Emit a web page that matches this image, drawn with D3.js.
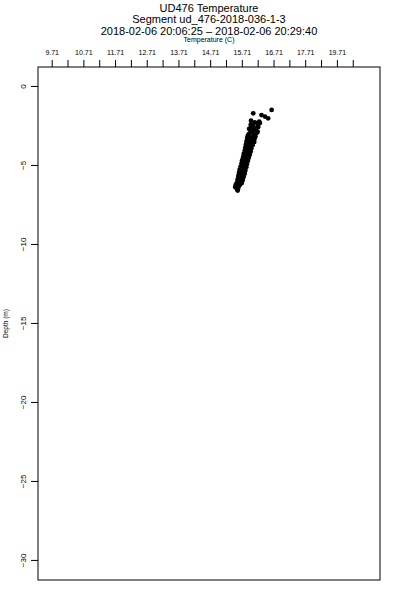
<!DOCTYPE html>
<html>
<head>
<meta charset="utf-8">
<script src="https://cdn.jsdelivr.net/npm/d3@7"></script>
<style>
  body { margin: 0; background: #fff; }
  text { font-family: "Liberation Sans", Arial, sans-serif; fill: #000; }
</style>
</head>
<body>
<div id="chart"></div>
<script>
// titles
var titleLines = ["UD476 Temperature", "Segment ud_476-2018-036-1-3", "2018-02-06 20:06:25 \u2013 2018-02-06 20:29:40"];

// top axis ticks (every 0.5 C) and their labels (every other tick)
var tempTicks = [9.71, 10.21, 10.71, 11.21, 11.71, 12.21, 12.71, 13.21, 13.71, 14.21,
                 14.71, 15.21, 15.71, 16.21, 16.71, 17.21, 17.71, 18.21, 18.71, 19.21];
var tempLabels = ["9.71", "10.71", "11.71", "12.71", "13.71", "14.71", "15.71", "16.71", "17.71", "19.71"];
var depthTicks = [0, -5, -10, -15, -20, -25, -30];

// observations
var depth = [-1.52, -1.73, -1.84, -1.94, -2.05, -2.20, -2.26, -2.30, -2.35, -2.40, -2.45, -2.50, -2.55,
  -2.62, -2.65, -2.68, -2.72, -2.80, -2.85, -2.90, -2.95, -3.00, -3.05, -3.10, -3.15, -3.20, -3.25,
  -3.30, -3.35, -3.40, -3.45, -3.50, -3.55, -3.60, -3.65, -3.70, -3.75, -3.80, -3.85, -3.90, -3.95,
  -4.00, -4.05, -4.10, -4.15, -4.20, -4.25, -4.30, -4.35, -4.40, -4.45, -4.50, -4.55, -4.60, -4.65,
  -4.70, -4.75, -4.80, -4.85, -4.90, -4.95, -5.00, -5.05, -5.10, -5.15, -5.20, -5.25, -5.30, -5.35,
  -5.40, -5.45, -5.50, -5.55, -5.60, -5.65, -5.70, -5.75, -5.80, -5.85, -5.90, -5.95, -6.00, -6.05,
  -6.10, -6.15, -6.20, -6.25, -6.25, -6.30, -6.35, -6.40, -6.45, -6.55, -6.62];
var temp = [16.65, 16.07, 16.33, 16.44, 16.54, 16.00, 16.26, 16.12, 16.28, 16.20, 15.99, 16.05, 16.22,
  16.22, 15.99, 16.13, 15.94, 16.15, 16.04, 16.21, 15.98, 16.17, 15.93, 16.09, 15.90, 16.14, 16.00,
  15.88, 16.11, 15.95, 16.06, 15.86, 16.10, 15.93, 16.02, 15.84, 16.05, 15.90, 15.98, 15.82, 16.01,
  15.87, 15.95, 15.80, 15.99, 15.84, 15.92, 15.77, 15.96, 15.81, 15.90, 15.75, 15.93, 15.78, 15.86,
  15.72, 15.90, 15.76, 15.84, 15.70, 15.87, 15.73, 15.81, 15.67, 15.85, 15.70, 15.78, 15.64, 15.82,
  15.68, 15.75, 15.62, 15.80, 15.66, 15.72, 15.60, 15.77, 15.63, 15.70, 15.58, 15.74, 15.61, 15.68,
  15.56, 15.71, 15.59, 15.65, 15.52, 15.62, 15.55, 15.50, 15.60, 15.56, 15.58];

var width = 400, height = 600;
var plotL = 38, plotR = 380, plotT = 67, plotB = 580;

var svg = d3.select("#chart").append("svg")
  .attr("width", width)
  .attr("height", height);

var x = d3.scaleLinear().domain([9.278, 20.07]).range([plotL, plotR]);
var y = d3.scaleLinear().domain([1.2, -31.27]).range([plotT, plotB]);

// titles
var titleY = [12, 23, 34.5];
svg.selectAll("text.title")
  .data(titleLines)
  .enter().append("text")
  .attr("class", "title")
  .attr("x", (plotL + plotR) / 2)
  .attr("y", function (d, i) { return titleY[i]; })
  .attr("text-anchor", "middle")
  .style("font-size", "11px")
  .text(function (d) { return d; });

svg.append("text")
  .attr("x", (plotL + plotR) / 2)
  .attr("y", 42)
  .attr("text-anchor", "middle")
  .style("font-size", "7px")
  .text("Temperature (C)");

// top axis
var xAxis = d3.axisTop(x)
  .tickValues(tempTicks)
  .tickSize(7)
  .tickFormat(function (d, i) { return i % 2 === 0 ? tempLabels[i / 2] : ""; });
var gx = svg.append("g")
  .attr("transform", "translate(0," + plotT + ")")
  .call(xAxis);
gx.select(".domain").remove();
gx.selectAll("line").attr("stroke", "#000");
gx.selectAll("text")
  .attr("y", -12)
  .attr("fill", "#000")
  .style("font-size", "7px")
  .style("font-family", "Liberation Sans, Arial, sans-serif");

// left axis
var yAxis = d3.axisLeft(y)
  .tickValues(depthTicks)
  .tickSize(7)
  .tickFormat(d3.format("d"));
var gy = svg.append("g")
  .attr("transform", "translate(" + plotL + ",0)")
  .call(yAxis);
gy.select(".domain").remove();
gy.selectAll("line").attr("stroke", "#000");
gy.selectAll("text")
  .attr("x", null)
  .attr("dy", null)
  .attr("fill", "#000")
  .attr("text-anchor", "middle")
  .attr("transform", "translate(-12,0) rotate(-90)")
  .style("font-size", "8px")
  .style("font-family", "Liberation Sans, Arial, sans-serif");

svg.append("text")
  .attr("transform", "translate(8," + ((plotT + plotB) / 2) + ") rotate(-90)")
  .attr("text-anchor", "middle")
  .style("font-size", "6.5px")
  .text("Depth (m)");

// frame
svg.append("rect")
  .attr("x", plotL).attr("y", plotT)
  .attr("width", plotR - plotL).attr("height", plotB - plotT)
  .attr("fill", "none").attr("stroke", "#000").attr("stroke-width", 1);

// points
svg.selectAll("circle")
  .data(depth)
  .enter().append("circle")
  .attr("cx", function (d, i) { return x(temp[i]); })
  .attr("cy", function (d) { return y(d); })
  .attr("r", 2.4)
  .attr("fill", "#000");
</script>
</body>
</html>
